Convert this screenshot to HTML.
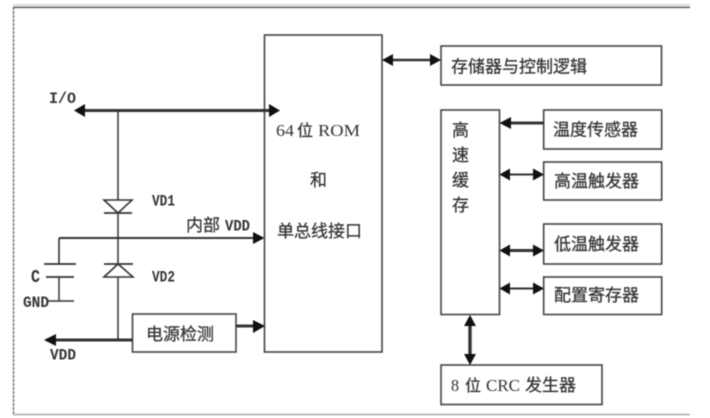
<!DOCTYPE html>
<html><head><meta charset="utf-8"><style>
html,body{margin:0;padding:0;background:#fff;width:710px;height:418px;overflow:hidden}
svg{display:block;filter:blur(.5px)}
rect.b{fill:#fff;stroke:#444;stroke-width:1.6}
line,path.w{stroke:#333;fill:none}
text{fill:#333}
.cjk{font-family:"Liberation Serif","Noto Sans CJK SC",sans-serif;font-size:17px;stroke:#333;stroke-width:.25px}
.mix{font-family:"Liberation Serif",serif;font-size:17px}
.mono{font-family:"Liberation Mono",monospace;font-size:16px;font-weight:bold}
</style></head><body>
<svg width="710" height="418" viewBox="0 0 710 418" xmlns="http://www.w3.org/2000/svg">
<rect x="0" y="0" width="710" height="418" fill="#fff"/>
<!-- frame -->
<rect x="13" y="4" width="677" height="3" fill="#ddd"/>
<line x1="13" y1="7.5" x2="690" y2="7.5" stroke="#666" stroke-width="1"/>
<line x1="13.5" y1="7" x2="13.5" y2="415" style="stroke:#555" stroke-width="1.2" stroke-dasharray="3 1"/>
<line x1="13" y1="414.5" x2="690" y2="414.5" style="stroke:#aaa" stroke-width="1.5"/>
<!-- boxes -->
<rect class="b" x="264.5" y="35" width="117.5" height="317"/>
<rect class="b" x="441" y="46" width="220.5" height="39"/>
<rect class="b" x="441" y="110" width="58.5" height="204.5"/>
<rect class="b" x="543.7" y="110" width="118" height="39"/>
<rect class="b" x="543.7" y="162" width="118" height="38"/>
<rect class="b" x="543.7" y="224" width="118" height="40"/>
<rect class="b" x="543.7" y="277" width="118" height="37.5"/>
<rect class="b" x="441" y="365" width="161" height="39.5"/>
<rect class="b" x="132.5" y="314" width="103.5" height="38"/>
<!-- wires -->
<line x1="118" y1="110" x2="118" y2="340" stroke-width="1.5"/>
<line x1="82" y1="110.5" x2="272" y2="110.5" stroke-width="3"/>
<path d="M74 110.5L85 104V117Z M280 110.5L269 104V117Z" fill="#111"/>
<line x1="59" y1="238" x2="256" y2="238" stroke-width="2"/>
<path d="M59 264V238" class="w" stroke-width="1.6"/>
<path d="M264.5 238L253 232V244Z" fill="#111"/>
<line x1="44" y1="264" x2="76" y2="264" stroke-width="1.8"/>
<line x1="46" y1="277" x2="74" y2="277" stroke-width="1.8"/>
<line x1="59" y1="277" x2="59" y2="301" stroke-width="1.5"/>
<line x1="48" y1="301" x2="74" y2="301" stroke-width="1.6"/>
<!-- diodes -->
<path d="M104 200H132L118 213Z" fill="#fff" stroke="#333" stroke-width="1.6"/>
<line x1="104" y1="213" x2="132" y2="213" stroke-width="1.8"/>
<path d="M104 277H133L118 264Z" fill="#fff" stroke="#333" stroke-width="1.6"/>
<line x1="104" y1="264" x2="133" y2="264" stroke-width="1.8"/>
<!-- VDD arrow -->
<line x1="52" y1="340" x2="133" y2="340" stroke-width="3"/>
<path d="M44 340L56 334V346Z" fill="#111"/>
<!-- power arrow -->
<line x1="236" y1="326" x2="256" y2="326" stroke-width="3"/>
<path d="M265 326L253 320V333Z" fill="#111"/>
<!-- memory -->
<line x1="390" y1="60" x2="434" y2="60" stroke-width="2.4"/>
<path d="M382 60L393 54V66Z M441 60L430 54V66Z" fill="#111"/>
<!-- temp -->
<line x1="508" y1="123" x2="544" y2="123" stroke-width="3"/>
<path d="M499.5 123L511 117V129Z" fill="#111"/>
<!-- high -->
<line x1="507" y1="174.5" x2="536" y2="174.5" stroke-width="2"/>
<path d="M499.5 174.5L510 168.5V180.5Z M544 174.5L533 168.5V180.5Z" fill="#111"/>
<!-- low -->
<line x1="507" y1="250.5" x2="536" y2="250.5" stroke-width="3"/>
<path d="M499.5 250.5L510 244.5V256.5Z M544 250.5L533 244.5V256.5Z" fill="#111"/>
<!-- config -->
<line x1="507" y1="288.5" x2="536" y2="288.5" stroke-width="2"/>
<path d="M499.5 288.5L510 282.5V294.5Z M544 288.5L533 282.5V294.5Z" fill="#111"/>
<!-- crc -->
<line x1="470" y1="322" x2="470" y2="358" stroke-width="3.4"/>
<path d="M470 315L464 326H476Z M470 365L464 354H476Z" fill="#111"/>
<!-- labels -->
<text class="mono" x="49" y="103" textLength="27" lengthAdjust="spacingAndGlyphs">I/O</text>
<text class="mono" x="152" y="205.5" textLength="23" lengthAdjust="spacingAndGlyphs">VD1</text>
<text class="mono" x="152" y="281.5" textLength="23" lengthAdjust="spacingAndGlyphs">VD2</text>
<text class="mono" x="31" y="282" style="font-size:18px" textLength="9" lengthAdjust="spacingAndGlyphs">C</text>
<text class="mono" x="23" y="307" textLength="26" lengthAdjust="spacingAndGlyphs">GND</text>
<text class="mono" x="50" y="359.5" textLength="26" lengthAdjust="spacingAndGlyphs">VDD</text>
<text class="cjk" x="186" y="231">内部</text>
<text class="mono" x="225" y="230.5" textLength="25" lengthAdjust="spacingAndGlyphs">VDD</text>
<text class="cjk" x="146" y="340">电源检测</text>
<text class="mix" x="276" y="136" textLength="18" lengthAdjust="spacingAndGlyphs">64</text>
<text class="cjk" x="297" y="136" style="font-size:16px">位</text>
<text class="mix" x="318" y="136" textLength="42" lengthAdjust="spacingAndGlyphs">ROM</text>
<text class="cjk" x="310" y="186">和</text>
<text class="cjk" x="277" y="237">单总线接口</text>
<text class="cjk" x="451" y="72.5">存储器与控制逻辑</text>
<text class="cjk" x="452" y="136">高</text>
<text class="cjk" x="452" y="161">速</text>
<text class="cjk" x="452" y="186">缓</text>
<text class="cjk" x="452" y="211">存</text>
<text class="cjk" x="553" y="135.5">温度传感器</text>
<text class="cjk" x="554" y="187">高温触发器</text>
<text class="cjk" x="554" y="250">低温触发器</text>
<text class="cjk" x="554" y="301">配置寄存器</text>
<text class="mix" x="451" y="391" textLength="8" lengthAdjust="spacingAndGlyphs">8</text>
<text class="cjk" x="465" y="391" style="font-size:16px">位</text>
<text class="mix" x="486" y="391" textLength="34" lengthAdjust="spacingAndGlyphs">CRC</text>
<text class="cjk" x="525" y="391">发生器</text>
</svg>
</body></html>
